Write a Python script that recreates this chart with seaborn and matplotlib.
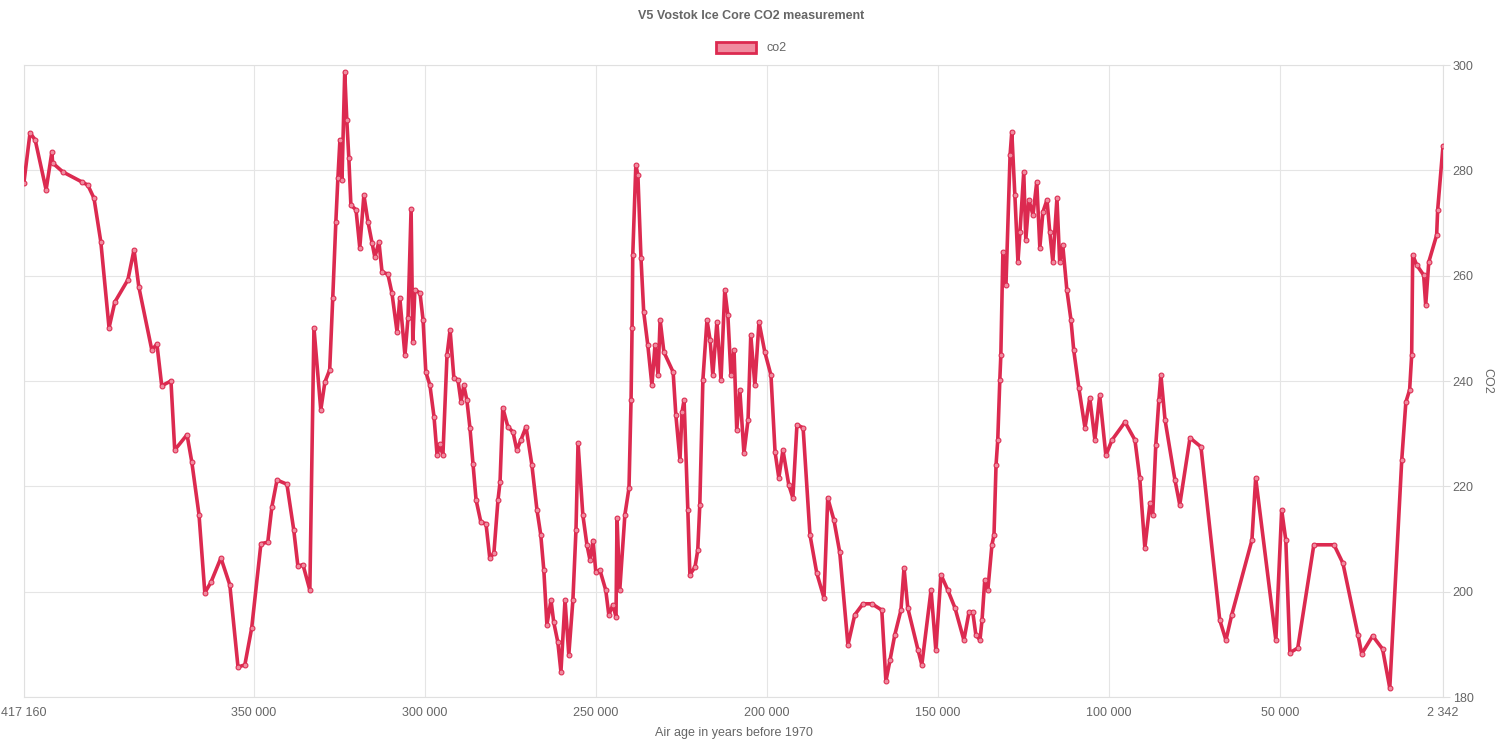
import matplotlib
matplotlib.use("Agg")
import matplotlib.pyplot as plt
import matplotlib.patches as mpatches
import seaborn as sns
import pandas as pd

age_ky = [417.2,415.4,413.9,410.7,409.0,408.8,405.8,400.2,398.5,396.7,394.7,392.3,390.6,386.8,385.0,383.6,379.8,378.3,376.9,374.2,
373.1,369.5,368.1,366.0,364.3,362.5,359.6,357.0,354.6,352.6,350.6,347.9,345.9,344.7,343.2,340.3,338.3,337.1,335.6,333.6,
332.4,330.4,329.2,327.8,326.9,326.0,325.4,324.8,324.2,323.4,322.8,322.2,321.6,320.1,319.0,317.8,316.6,315.4,314.6,313.4,
312.5,310.8,309.6,308.1,307.3,305.8,304.9,304.0,303.5,302.9,301.4,300.5,299.7,298.5,297.3,296.4,295.6,294.7,293.5,292.6,
291.5,290.3,289.4,288.6,287.7,286.8,285.9,285.0,283.6,282.1,281.0,279.8,278.6,278.0,277.2,275.7,274.2,273.1,271.9,270.4,
268.7,267.2,266.1,265.2,264.3,263.1,262.3,261.1,260.2,259.0,257.9,256.7,255.8,255.2,253.8,252.6,251.7,250.8,250.0,248.8,
247.1,246.2,245.0,244.1,243.8,243.0,241.5,240.3,239.7,239.4,239.2,238.3,237.7,236.8,236.0,234.8,233.6,232.7,231.8,231.2,
230.1,227.4,226.6,225.4,224.8,224.2,223.1,222.5,221.0,220.2,219.6,218.7,217.5,216.6,215.8,214.6,213.4,212.3,211.4,210.5,
209.6,208.8,207.9,206.7,205.5,204.7,203.5,202.3,200.6,198.8,197.6,196.5,195.3,193.6,192.4,191.2,189.4,187.4,185.4,183.3,
182.2,180.4,178.7,176.3,174.3,171.9,169.3,166.4,165.2,164.0,162.6,160.8,159.9,158.8,155.8,154.7,152.0,150.6,149.1,147.1,
145.0,142.4,140.9,139.8,138.9,137.7,137.1,136.3,135.4,134.2,133.6,133.0,132.5,131.9,131.6,131.0,130.1,128.9,128.4,127.5,
126.6,126.0,124.9,124.3,123.4,122.2,121.1,120.2,119.3,118.1,117.3,116.4,115.2,114.4,113.5,112.3,111.1,110.3,108.8,107.0,
105.6,104.1,102.7,100.9,99.1,95.3,92.4,91.0,89.5,88.0,87.2,86.3,85.4,84.8,83.6,80.7,79.3,76.3,73.1,67.6,
65.8,64.1,58.2,57.1,51.2,49.5,48.3,47.1,44.8,40.1,34.2,31.6,27.2,26.1,22.9,20.0,17.9,14.4,13.2,12.1,
11.5,11.2,10.0,8.0,7.4,6.5,4.2,3.9,2.342]

co2 = [277.6,287.1,285.8,276.3,283.5,281.4,279.7,277.8,277.2,274.7,266.4,250.1,255.0,259.2,264.9,257.9,245.9,247.0,239.1,240.0,
226.9,229.8,224.6,214.6,199.8,201.8,206.4,201.3,185.7,186.1,193.1,209.1,209.4,216.1,221.2,220.4,211.7,204.9,205.1,200.3,
250.1,234.5,239.8,242.1,255.8,270.2,278.5,285.8,278.2,298.7,289.6,282.3,273.4,272.5,265.3,275.3,270.2,266.2,263.5,266.4,
260.7,260.3,256.7,249.3,255.8,244.9,252.0,272.7,247.4,257.3,256.7,251.6,241.7,239.2,233.2,225.9,228.0,225.9,244.9,249.7,
240.6,240.2,236.0,239.2,236.4,231.1,224.2,217.4,213.2,212.9,206.4,207.3,217.4,220.8,234.9,231.3,230.3,226.9,228.8,231.3,
224.1,215.5,210.8,204.1,193.7,198.4,194.2,190.4,184.8,198.4,188.0,198.4,211.7,228.2,214.6,208.9,206.0,209.7,203.7,204.1,
200.3,195.6,197.5,195.2,214.0,200.3,214.6,219.7,236.4,250.1,263.9,281.0,279.1,263.4,253.1,246.8,239.2,246.8,241.1,251.6,
245.5,241.7,233.5,225.0,234.1,236.4,215.5,203.2,204.7,207.9,216.5,240.2,251.6,247.8,241.1,251.2,240.2,257.3,252.5,241.1,
245.9,230.7,238.3,226.3,232.6,248.7,239.2,251.2,245.5,241.1,226.5,221.6,226.9,220.3,217.8,231.7,231.1,210.8,203.5,198.8,
217.8,213.6,207.5,189.9,195.6,197.7,197.7,196.5,183.0,187.0,191.8,196.5,204.5,196.9,188.9,186.1,200.3,188.9,203.2,200.3,
196.9,190.8,196.1,196.1,191.8,190.8,194.6,202.2,200.3,208.9,210.8,224.1,228.8,240.2,244.9,264.5,258.2,282.9,287.3,275.3,
262.6,268.3,279.7,266.8,274.4,271.5,277.8,265.3,272.1,274.4,268.3,262.6,274.7,262.6,265.8,257.3,251.6,245.9,238.7,231.1,
236.8,228.8,237.3,225.9,228.8,232.2,228.8,221.6,208.3,216.8,214.6,227.9,236.4,241.1,232.6,221.2,216.5,229.2,227.5,194.6,
190.8,195.6,209.8,221.6,190.8,215.5,209.8,188.4,189.3,208.9,208.9,205.4,191.8,188.2,191.6,189.1,181.7,225.0,236.0,238.3,
244.9,263.9,262.0,260.1,254.4,262.6,267.7,272.5,284.6]

x_ticks = [417160, 350000, 300000, 250000, 200000, 150000, 100000, 50000, 2342]
x_labels = ["417 160", "350 000", "300 000", "250 000", "200 000", "150 000", "100 000", "50 000", "2 342"]
y_ticks = [180, 200, 220, 240, 260, 280, 300]

df = pd.DataFrame({"age": [a * 1000 for a in age_ky], "co2": co2})

sns.set_style("white")
plt.rcParams['font.family'] = ['Liberation Sans', 'DejaVu Sans']
color = "#dc2a50"

fig = plt.figure(figsize=(15.03, 7.47), dpi=100)
ax = fig.add_axes([24/1503, 1-697/747, (1443-24)/1503, (697-65)/747])
sns.lineplot(data=df, x="age", y="co2", sort=False, ax=ax, color=color, linewidth=2.6,
             marker="o", markersize=3.5, markeredgecolor=color, markerfacecolor="#f08ca0", zorder=3)
ax.set_xlim(417160, 2342)
ax.set_ylim(180, 300)
ax.set_xticks(x_ticks)
ax.set_xticklabels(x_labels, fontsize=9, color="#666666")
ax.yaxis.tick_right()
ax.yaxis.set_label_position("right")
ax.set_yticks(y_ticks)
ax.set_yticklabels([str(v) for v in y_ticks], fontsize=9, color="#666666")
ax.grid(True, color="#e5e5e5", linewidth=0.8)
for s in ax.spines.values():
    s.set_color("#e0e0e0")
ax.tick_params(length=5, color="#e0e0e0", pad=2)
ax.set_xlabel("Air age in years before 1970", fontsize=9, color="#666666", labelpad=6)
ax.set_ylabel("CO2", fontsize=9, color="#666666", rotation=270, labelpad=14)
fig.text(0.5, 1-16/747, "V5 Vostok Ice Core CO2 measurement", ha="center", va="center",
         fontsize=9, fontweight="bold", color="#666666")
handle = mpatches.Patch(facecolor="#f08ca0", edgecolor=color, linewidth=2)
fig.legend([handle], ["co2"], loc="center", bbox_to_anchor=(0.5, 1-48/747), frameon=False,
           fontsize=9, handlelength=3.2, handleheight=1.0, labelcolor="#666666")
fig.savefig("out.png", dpi=100)
